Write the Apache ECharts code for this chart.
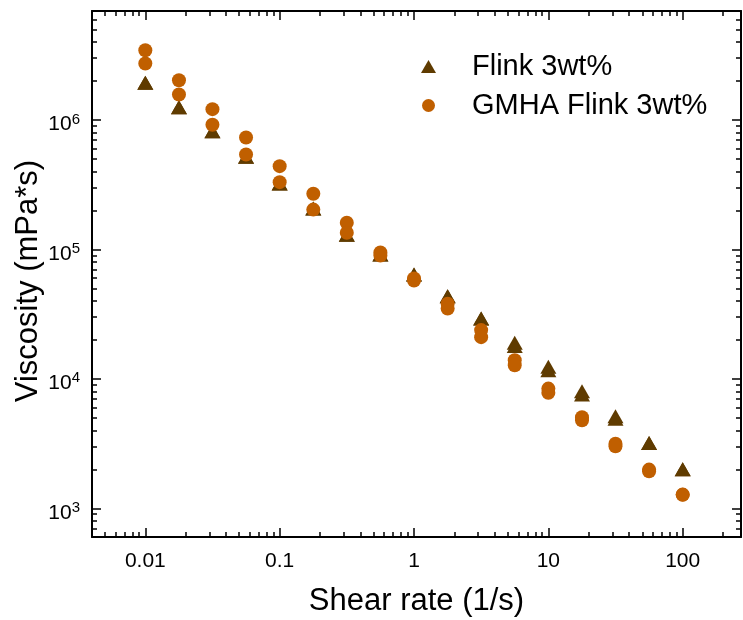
<!DOCTYPE html>
<html><head><meta charset="utf-8">
<script src="https://cdn.jsdelivr.net/npm/echarts@6/dist/echarts.min.js"></script>
<style>html,body{margin:0;padding:0;background:#fff}#c{width:743px;height:620px}</style>
</head><body><div id="c"></div>
<script>
// ---- data ----
const shearRate = [0.01, 0.0178, 0.0316, 0.0562, 0.1, 0.178, 0.316, 0.562, 1, 1.78, 3.16, 5.62, 10, 17.8, 31.6, 56.2, 100];
const flinkRun1 = [1.94e6, 1.256e6, 8.19e5, 5.19e5, 3.23e5, 2.07e5, 1.30e5, 9.14e4, 6.40e4, 4.35e4, 2.92e4, 1.90e4, 1.24e4, 8.02e3, 5.14e3, 3.20e3, 2.00e3];
const flinkRun2 = [1.94e6, 1.256e6, 8.19e5, 5.19e5, 3.23e5, 2.07e5, 1.30e5, 9.14e4, 6.40e4, 4.35e4, 2.92e4, 1.79e4, 1.165e4, 7.56e3, 4.91e3, 3.20e3, 2.00e3];
const gmhaRun1 = [3.46e6, 2.03e6, 1.212e6, 7.32e5, 4.40e5, 2.69e5, 1.606e5, 9.46e4, 5.96e4, 3.80e4, 2.38e4, 1.393e4, 8.41e3, 5.05e3, 3.15e3, 1.99e3, 1.276e3];
const gmhaRun2 = [2.73e6, 1.574e6, 9.18e5, 5.41e5, 3.31e5, 2.03e5, 1.344e5, 8.97e4, 5.75e4, 3.49e4, 2.10e4, 1.274e4, 7.80e3, 4.79e3, 3.01e3, 1.93e3, 1.27e3];
const seriesNames = ['Flink 3wt%', 'GMHA Flink 3wt%'];
const xTickValues = [0.01, 0.1, 1, 10, 100];
const xTickLabels = ['0.01', '0.1', '1', '10', '100'];
const yTickValues = [1e3, 1e4, 1e5, 1e6];
const yTickExponents = ['3', '4', '5', '6'];
const xRange = [0.00401, 271.6];
const yRange = [600, 6.95e6];

// ---- build ----
const lg = v => Math.log10(v);
const FONT = 'Liberation Sans, Arial, sans-serif';
const X_MIN = lg(xRange[0]), X_MAX = lg(xRange[1]);
const Y_MIN = lg(yRange[0]), Y_MAX = lg(yRange[1]);
function minorTicks(lo, hi) {
  const out = [];
  for (let e = Math.floor(lo) - 1; e <= Math.ceil(hi); e++) {
    for (let k = 2; k <= 9; k++) {
      const v = Math.log10(k) + e;
      if (v >= lo && v <= hi) out.push(v);
    }
  }
  return out;
}
const xMajor = xTickValues.map(lg), yMajor = yTickValues.map(lg);
const xMinor = minorTicks(X_MIN, X_MAX), yMinor = minorTicks(Y_MIN, Y_MAX);
const findIdx = (arr, v) => arr.findIndex(a => Math.abs(a - v) < 1e-6);
const black = '#000';

function xAx(pos, major, withLine, extra) {
  return Object.assign({
    type: 'value', position: pos, min: X_MIN, max: X_MAX,
    axisLine: { show: withLine, onZero: false, lineStyle: { color: black, width: 2 } },
    axisTick: { show: true, inside: true, length: major ? 9 : 5, customValues: major ? xMajor : xMinor, lineStyle: { color: black, width: 1.5 } },
    axisLabel: { show: false },
    splitLine: { show: false }
  }, extra || {});
}
function yAx(pos, major, withLine, extra) {
  return Object.assign({
    type: 'value', position: pos, min: Y_MIN, max: Y_MAX,
    axisLine: { show: withLine, onZero: false, lineStyle: { color: black, width: 2 } },
    axisTick: { show: true, inside: true, length: major ? 9 : 5, customValues: major ? yMajor : yMinor, lineStyle: { color: black, width: 1.5 } },
    axisLabel: { show: false },
    splitLine: { show: false }
  }, extra || {});
}

const option = {
  animation: false,
  backgroundColor: '#fff',
  grid: { left: 92, right: 2, top: 11, bottom: 83, containLabel: false, outerBoundsMode: 'none' },
  legend: {
    orient: 'vertical', left: 416, top: 47,
    itemWidth: 15, itemHeight: 13, itemGap: 10,
    data: [{ name: seriesNames[0], icon: 'triangle' }, { name: seriesNames[1], icon: 'circle' }],
    textStyle: { fontSize: 29, fontFamily: FONT, color: black, padding: [0, 0, 0, 31] }
  },
  xAxis: [
    xAx('bottom', true, true, {
      axisLabel: {
        show: true, customValues: xMajor, margin: 14, fontSize: 21, fontFamily: FONT, color: black,
        formatter: v => { const i = findIdx(xMajor, v); return i >= 0 ? xTickLabels[i] : ''; }
      },
      name: 'Shear rate (1/s)', nameLocation: 'middle', nameGap: 49, nameMoveOverlap: false,
      nameTextStyle: { fontSize: 31, fontFamily: FONT, color: black }
    }),
    xAx('bottom', false, false),
    xAx('top', true, true),
    xAx('top', false, false)
  ],
  yAxis: [
    yAx('left', true, true, {
      axisLabel: {
        show: true, customValues: yMajor, margin: 12, fontSize: 21, fontFamily: FONT, color: black,
        padding: [9, 0, 0, 0],
        formatter: v => { const i = findIdx(yMajor, v); return i >= 0 ? '{b|10}{s|' + yTickExponents[i] + '}' : ''; },
        rich: {
          b: { fontSize: 21, fontFamily: FONT, color: black },
          s: { fontSize: 15, fontFamily: FONT, color: black, padding: [0, 0, 10, 0] }
        }
      },
      name: 'Viscosity (mPa*s)', nameLocation: 'middle', nameGap: 48, nameMoveOverlap: false,
      nameTextStyle: { fontSize: 31, fontFamily: FONT, color: black, padding: [0, 14, 0, 0] }
    }),
    yAx('left', false, false),
    yAx('right', true, true),
    yAx('right', false, false)
  ],
  series: [
    {
      name: seriesNames[0], type: 'scatter', xAxisIndex: 0, yAxisIndex: 0,
      symbol: 'triangle', symbolSize: [16, 14],
      itemStyle: { color: '#5f3b00', opacity: 1 },
      data: shearRate.map((x, i) => [lg(x), lg(flinkRun1[i])]).concat(shearRate.map((x, i) => [lg(x), lg(flinkRun2[i])]))
    },
    {
      name: seriesNames[1], type: 'scatter', xAxisIndex: 0, yAxisIndex: 0,
      symbol: 'circle', symbolSize: 14,
      itemStyle: { color: '#c05f00', opacity: 1 },
      data: shearRate.map((x, i) => [lg(x), lg(gmhaRun1[i])]).concat(shearRate.map((x, i) => [lg(x), lg(gmhaRun2[i])]))
    }
  ]
};
const chart = echarts.init(document.getElementById('c'), null, { renderer: 'canvas' });
chart.setOption(option);
</script>
</body></html>
